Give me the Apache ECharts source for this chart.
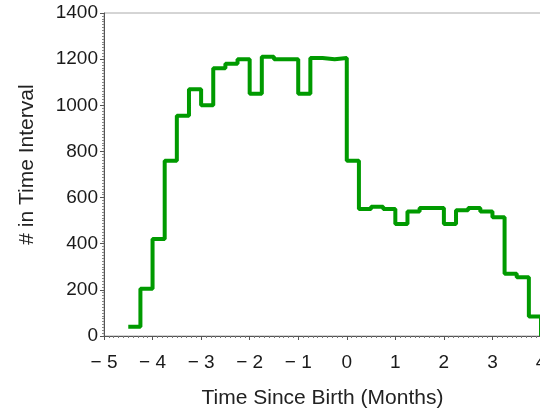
<!DOCTYPE html>
<html>
<head>
<meta charset="utf-8">
<script src="https://cdn.jsdelivr.net/npm/echarts@6/dist/echarts.min.js"></script>
<style>
  html, body { margin: 0; padding: 0; background: #fff; }
  #chart { width: 540px; height: 415px; }
</style>
</head>
<body>
<div id="chart"></div>
<script>
// Bin left edges (months since birth), bin width 0.25
const binStarts = [-4.5, -4.25, -4.0, -3.75, -3.5, -3.25, -3.0, -2.75, -2.5, -2.25,
                   -2.0, -1.75, -1.5, -1.25, -1.0, -0.75, -0.5, -0.25, 0.0, 0.25,
                   0.5, 0.75, 1.0, 1.25, 1.5, 1.75, 2.0, 2.25, 2.5, 2.75,
                   3.0, 3.25, 3.5, 3.75];
// Count in each time interval
const counts = [40, 205, 420, 760, 955, 1070, 1000, 1160, 1180, 1200,
                1050, 1210, 1200, 1200, 1050, 1205, 1200, 1205, 760, 550,
                560, 550, 485, 540, 555, 555, 485, 545, 555, 540,
                515, 270, 255, 85];
// Closing edge of last bin
const lastEdge = 4.0;
const lastValue = 0;

const xTicks = [-5, -4, -3, -2, -1, 0, 1, 2, 3, 4];
const yTicks = [0, 200, 400, 600, 800, 1000, 1200, 1400];

const seriesData = binStarts.map((x, i) => [x, counts[i]]);
seriesData.push([lastEdge, lastValue]);

const font = 'Liberation Sans, Arial, Helvetica, sans-serif';
const chart = echarts.init(document.getElementById('chart'), null, { renderer: 'canvas' });
chart.setOption({
  animation: false,
  backgroundColor: '#ffffff',
  grid: {
    left: 104, right: -1, top: 13, bottom: 79, containLabel: false,
    outerBoundsMode: 'none',
    show: true, borderColor: '#aaaaaa', borderWidth: 1, backgroundColor: 'transparent'
  },
  xAxis: {
    type: 'value',
    position: 'bottom',
    min: xTicks[0], max: xTicks[xTicks.length - 1], interval: 1,
    name: 'Time Since Birth (Months)',
    nameLocation: 'middle', nameGap: 52,
    nameTextStyle: { fontFamily: font, fontSize: 21, color: '#222' },
    axisLine: { show: true, onZero: false, lineStyle: { color: '#555', width: 1 } },
    axisTick: { show: true, length: 4, lineStyle: { color: '#555' } },
    minorTick: { show: true, splitNumber: 10, length: 2, lineStyle: { color: '#777' } },
    splitLine: { show: false },
    axisLabel: {
      margin: 17, fontFamily: font, fontSize: 19, color: '#1a1a1a',
      formatter: v => String(v).replace('-', '\u2212 ')
    }
  },
  yAxis: {
    type: 'value',
    position: 'left',
    min: yTicks[0], max: yTicks[yTicks.length - 1], interval: 200,
    name: '# in Time Interval',
    nameLocation: 'middle', nameGap: 66, nameRotate: 90,
    nameTextStyle: { fontFamily: font, fontSize: 21, color: '#222', padding: [0, 0, 0, 20] },
    axisLine: { show: true, onZero: false, lineStyle: { color: '#555', width: 1 } },
    axisTick: { show: true, length: 4, lineStyle: { color: '#555' } },
    minorTick: { show: true, splitNumber: 16, length: 2, lineStyle: { color: '#888' } },
    splitLine: { show: false },
    axisLabel: { margin: 6, fontFamily: font, fontSize: 19, color: '#1a1a1a', formatter: v => String(v) }
  },
  series: [{
    type: 'line',
    step: 'end',
    data: seriesData,
    symbol: 'none',
    lineStyle: { color: '#009a00', width: 4 },
    clip: false
  }]
});
</script>
</body>
</html>
